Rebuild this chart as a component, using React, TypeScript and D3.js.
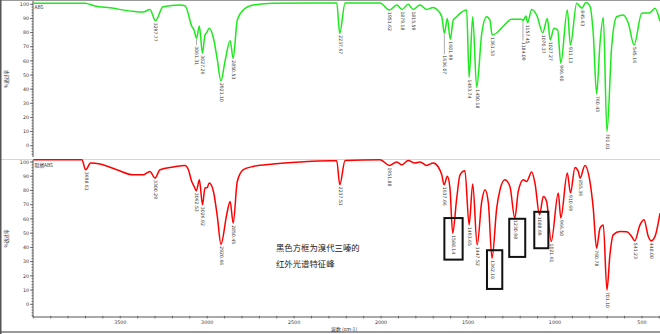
import React from "react";
import * as d3 from "d3";

// ---- data (wavenumber cm-1, transmittance %) ----
const topSpectrum: [number, number][] = [
  [4000, 100.8], [3702, 100.8], [3645, 98.8], [3559, 97.5], [3427, 95], [3369, 94.5],
  [3329, 96.4], [3254, 98.3], [3156, 99.5], [3127, 99], [3087, 84], [3076, 82],
  [3045, 84.6], [3013, 78.3], [3003, 80], [2988, 83], [2964, 76], [2942, 61],
  [2897, 60], [2868, 74.3], [2827, 88.9], [2792, 96], [2735, 99.5], [2620, 100.7],
  [2294, 101], [2255, 101], [2207, 101], [2006, 101], [1910, 99.5], [1844, 100],
  [1776, 99.5], [1738, 96.4], [1700, 97.8], [1680, 96.4], [1651, 91.2], [1619, 90],
  [1585, 88.9], [1565, 91.2], [1546, 93.6], [1508, 96], [1473, 91.2], [1421, 79.5],
  [1393, 91.2], [1374, 88.9], [1335, 79.7], [1297, 84.6], [1249, 89.4], [1191, 89.4],
  [1167, 91.7], [1134, 96.4], [1105, 92.4], [1044, 90], [1006, 83], [984, 81.6],
  [929, 96], [875, 100.7], [822, 101.3], [799, 98.8], [780, 79.5], [741, 72.4],
  [722, 90.8], [674, 70], [645, 91.2], [607, 92.4], [578, 86.6], [501, 93.6],
  [454, 94], [425, 97.2], [396, 88],
];
const topPeaks: [string, number][] = [
  ["3297.77", 88.4], ["3061.31", 76], ["3027.26", 65.3], ["2921.10", 45.8], ["2850.53", 61.8],
  ["2237.67", 79.5], ["1951.62", 96], ["1879.18", 96.4], ["1815.59", 96.4], ["1636.07", 79.5],
  ["1601.99", 75.2], ["1493.74", 48.3], ["1450.18", 41.3], ["1361.53", 78.3], ["1184.09", 88.4],
  ["1157.45", 87], ["1070.37", 79.9], ["1027.27", 74.8], ["966.60", 58.3], ["911.13", 71.2],
  ["845.63", 97.2], ["760.43", 36.6], ["701.01", 9.9], ["545.16", 71.2],
];

const botSpectrum: [number, number][] = [
  [4000, 101.6], [3721, 101.6], [3670, 99.3], [3616, 98.6], [3520, 94.6], [3425, 91],
  [3369, 91], [3329, 93.4], [3271, 94.6], [3195, 96.5], [3127, 97.6], [3108, 94.6],
  [3089, 86.3], [3076, 83], [3045, 87.5], [3013, 81.7], [3000, 82], [2988, 85.2],
  [2964, 79.3], [2942, 62], [2888, 62.9], [2868, 72.3], [2827, 86.3], [2792, 94.6],
  [2735, 96.9], [2620, 98.6], [2466, 100], [2294, 100.9], [2255, 100.9], [2207, 101],
  [2006, 101.6], [1910, 100], [1881, 98], [1844, 101], [1805, 99.3], [1776, 100],
  [1738, 97.6], [1700, 99.3], [1671, 96.5], [1651, 91], [1619, 89.9], [1604, 81.7],
  [1565, 74.6], [1546, 91], [1518, 93.9], [1473, 84.5], [1421, 72.3], [1402, 80.5],
  [1383, 71.1], [1335, 67.6], [1316, 80.5], [1288, 87.5], [1259, 82.8], [1211, 79.3],
  [1182, 87.5], [1163, 86.3], [1134, 93], [1115, 85.2], [1067, 75.8], [1048, 72.3],
  [981, 78.2], [929, 92.3], [885, 96.2], [866, 93.4], [828, 97.6], [799, 86.3],
  [780, 67.6], [741, 53.5], [722, 55.8], [684, 34.7], [665, 48.8], [626, 51.1],
  [588, 51], [559, 47.6], [511, 55.8], [488, 59.4], [463, 47.6], [425, 47.6], [396, 64],
];
const botPeaks: [string, number][] = [
  ["3698.61", 94.6], ["3300.29", 88.7], ["3062.53", 79.8], ["3026.92", 69.9], ["2920.66", 42.2],
  ["2850.45", 57], ["2237.51", 84], ["1951.88", 97.6], ["1637.66", 84], ["1588.14", 50],
  ["1493.65", 55.8], ["1447.52", 41.8], ["1362.10", 32.4], ["1230.98", 60.6], ["1088.69", 62.9],
  ["1021.61", 44.1], ["966.50", 60.6], ["910.69", 78.2], ["855.36", 88.7], ["760.78", 39.4],
  ["701.10", 10.1], ["541.23", 44.6], ["448.00", 44.6],
];

// leader lines (label pushed down) for a few labels
const leaders: Record<string, number> = { "1636.07": 20, "1184.09": 19, "3061.31": 6 };

// highlight boxes on bottom spectrum: [wnFrom, wnTo, tHigh, tLow]
const boxes: [number, number, number, number][] = [
  [1636, 1531, 60.6, 31.4],
  [1391, 1303, 38, 10.8],
  [1263, 1171, 60.1, 33.3],
  [1119, 1038, 65, 39.4],
];

const xTicks = d3.range(4000, 399, -100);
const xLabels = [3500, 3000, 2500, 2000, 1500, 1000, 500];
const yTicks = d3.range(0, 101, 10);
const yMinor = d3.range(-8, 101, 2);

const W = 660, H = 334;
const FONT = "'DejaVu Sans', 'Liberation Sans', sans-serif";
const CJK = "'Noto Sans CJK SC', sans-serif";

const x = d3.scaleLinear().domain([4000, 396]).range([33.3, 660]);
const yTop = d3.scaleLinear().domain([0, 100]).range([145.7, 4.3]);
const yBot = d3.scaleLinear().domain([0, 100]).range([304.3, 162]);

function merge(spec: [number, number][], peaks: [string, number][]) {
  const all: [number, number][] = [...spec, ...peaks.map((p) => [parseFloat(p[0]), p[1]] as [number, number])];
  return all.sort((a, b) => b[0] - a[0]);
}

function Panel({ spec, peaks, y, color, name, top, bottom }: any) {
  const line = d3
    .line<[number, number]>()
    .x((d) => x(d[0]))
    .y((d) => y(d[1]))
    .curve(d3.curveMonotoneX);
  const data = merge(spec, peaks);
  return (
    <g>
      {/* y axis */}
      <line x1={33} x2={33} y1={top} y2={bottom} stroke="#555" strokeWidth={1} />
      {yMinor.map((t) =>
        y(t) >= top && y(t) <= bottom ? (
          <line key={"m" + t} x1={31.5} x2={33} y1={y(t)} y2={y(t)} stroke="#555" strokeWidth={0.8} />
        ) : null
      )}
      {yTicks.map((t) => (
        <g key={t}>
          <line x1={30} x2={33} y1={y(t)} y2={y(t)} stroke="#555" strokeWidth={0.8} />
          <text x={29} y={y(t)} dy="0.35em" textAnchor="end" fontSize={4.8} fill="#333" fontFamily={FONT}>
            {t}
          </text>
        </g>
      ))}
      <text
        transform={`translate(7.5,${(top + bottom) / 2}) rotate(-90)`}
        textAnchor="middle"
        fontSize={4.6}
        fill="#333"
        fontFamily={CJK}
      >
        %透过率
      </text>
      <text x={34.5} y={y(100) + 4.5} fontSize={4.8} fill="#333" fontFamily={CJK}>
        {name}
      </text>
      {/* spectrum */}
      <path d={line(data) || ""} fill="none" stroke={color} strokeWidth={1.5} strokeLinejoin="round" />
      {/* peak labels */}
      {peaks.map(([lab, t]: [string, number]) => {
        const px = x(parseFloat(lab));
        const py = y(t);
        const L = leaders[lab] || 0;
        return (
          <g key={lab}>
            {L > 0 && <line x1={px} x2={px} y1={py + 1} y2={py + 1 + L} stroke="#888" strokeWidth={0.7} />}
            <text
              transform={`translate(${px - 1.1},${py + 2 + L}) rotate(90)`}
              fontSize={4.6}
              fill="#333"
              fontFamily={FONT}
            >
              {lab}
            </text>
          </g>
        );
      })}
    </g>
  );
}

export default function App() {
  return (
    <div style={{ position: "absolute", left: 0, top: 0 }}>
      <svg width={W} height={H} style={{ display: "block", background: "#fff" }}>
        <rect x={0} y={0} width={W} height={H} fill="#fff" />
        {/* frame lines */}
        <line x1={0} x2={W} y1={0.5} y2={0.5} stroke="#999" strokeWidth={1} />
        <line x1={0} x2={W} y1={159.5} y2={159.5} stroke="#d6d6d6" strokeWidth={1} />
        <line x1={35} x2={82} y1={159.5} y2={159.5} stroke="#f0c8c8" strokeWidth={1} />
        <line x1={0} x2={W} y1={332} y2={332} stroke="#777" strokeWidth={1.5} />
        <line x1={0.75} x2={0.75} y1={0} y2={H} stroke="#555" strokeWidth={1.5} />

        <Panel spec={topSpectrum} peaks={topPeaks} y={yTop} color="#1ee81e" name="ABS" top={1} bottom={157} />
        <Panel spec={botSpectrum} peaks={botPeaks} y={yBot} color="#ff0000" name="阻燃ABS" top={160} bottom={317} />

        {/* x axis */}
        <line x1={33} x2={660} y1={317} y2={317} stroke="#555" strokeWidth={1} />
        {xTicks.map((t) => (
          <line key={t} x1={x(t)} x2={x(t)} y1={315.8} y2={318.5} stroke="#555" strokeWidth={0.8} />
        ))}
        {xLabels.map((t) => (
          <text key={t} x={x(t)} y={324} textAnchor="middle" fontSize={4.8} fill="#333" fontFamily={FONT}>
            {t}
          </text>
        ))}
        <text x={344} y={330.5} textAnchor="middle" fontSize={5} fill="#333" fontFamily={CJK}>
          波数 (cm-1)
        </text>

        {/* highlight boxes */}
        {boxes.map(([a, b, hi, lo], i) => (
          <rect
            key={i}
            x={x(a)}
            y={yBot(hi)}
            width={x(b) - x(a)}
            height={yBot(lo) - yBot(hi)}
            fill="none"
            stroke="#111"
            strokeWidth={2}
          />
        ))}

        {/* annotation */}
        <text x={276} y={251} fontSize={8.4} fill="#222" fontFamily={CJK}>
          黑色方框为溴代三嗪的
        </text>
        <text x={276} y={267} fontSize={8.4} fill="#222" fontFamily={CJK}>
          红外光谱特征峰
        </text>
      </svg>
    </div>
  );
}
